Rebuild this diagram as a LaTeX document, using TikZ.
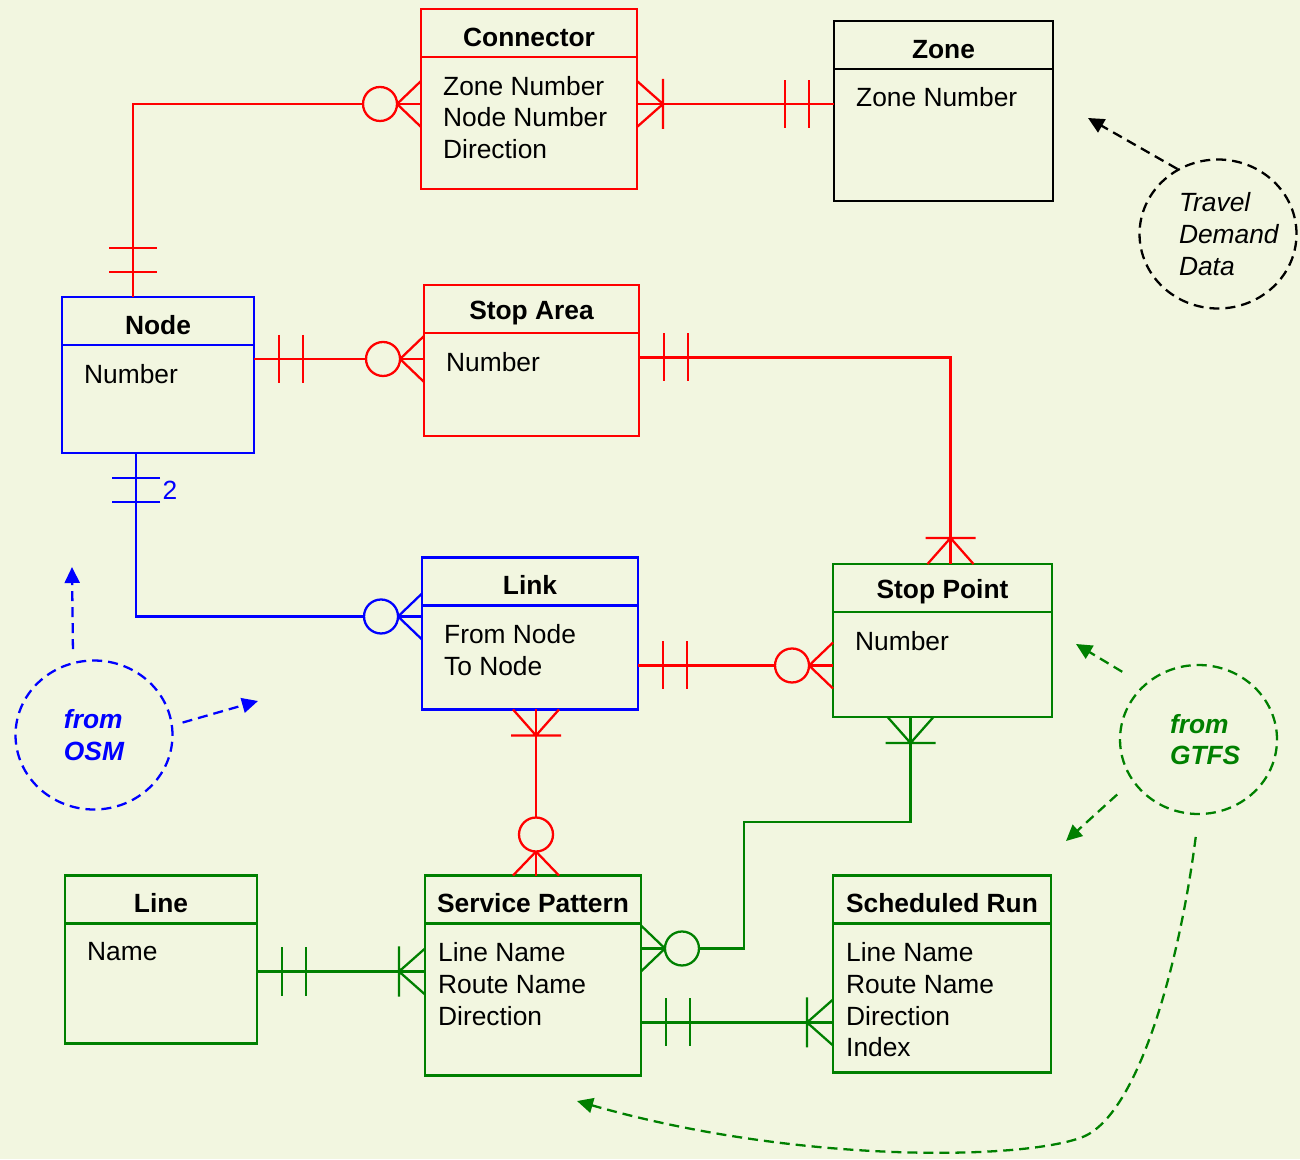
\documentclass[tikz,border=0pt]{standalone}
\usepackage{fontspec}
\setmainfont{Liberation Sans}
\usepackage{tikz}
\usetikzlibrary{shapes.geometric, arrows.meta, positioning}

\definecolor{bgc}{RGB}{242,246,224}
\definecolor{ergreen}{RGB}{0,128,0}
\newcommand{\erfont}{\fontsize{15}{18}\selectfont}

% crow's foot ends, +x points away from the entity
\tikzset{
  onlyone/.pic={\draw (25,-24) -- (25,24) (49,-24) -- (49,24);},
  onemany/.pic={\draw (0,-23) -- (26,0) -- (0,23) (26,-25) -- (26,25);},
  zeromany/.pic={\draw (0,-23) -- (24,0) -- (0,23);
                 \draw[fill=bgc] (41,0) circle[radius=0.34cm];}
}

\begin{document}
\begin{tikzpicture}[
  x=0.02cm, y=-0.02cm, line width=1.3pt,
  head/.style={rectangle, draw, outer sep=0pt, minimum height=0.96cm,
               text height=15pt, font=\erfont\bfseries},
  body/.style={rectangle, draw, outer sep=0pt},
  attr/.style={anchor=north west, inner sep=0pt, align=left, font=\erfont},
  srcnote/.style={ellipse, draw, dash pattern=on 0.2cm off 0.12cm,
                  minimum width=3.14cm, minimum height=2.98cm, inner sep=0pt,
                  align=left, font=\erfont\itshape},
  note/.style={dash pattern=on 0.2cm off 0.12cm,
               -{Triangle[length=0.32cm, width=0.3cm]}}
]
  \path[use as bounding box, fill=bgc] (0,0) rectangle (1300,1159);

  % entities
  \node[head, draw=red, minimum width=4.32cm] (connH) at (529,33) {Connector};
  \node[body, draw=red, minimum width=4.32cm, minimum height=2.64cm, below=0pt of connH] (conn) {};
  \node[attr] (connA) at ([shift={(21,18)}]conn.north west) {Zone Number\\Node Number\\Direction};

  \node[head, draw=black, minimum width=4.38cm] (zoneH) at (943.5,45) {Zone};
  \node[body, minimum width=4.38cm, minimum height=2.64cm, below=0pt of zoneH] (zone) {};
  \node[attr] (zoneA) at ([shift={(21,17)}]zone.north west) {Zone Number};

  \node[head, draw=blue, minimum width=3.84cm] (nodH) at (158,321) {Node};
  \node[body, draw=blue, minimum width=3.84cm, minimum height=2.16cm, below=0pt of nodH] (nod) {};
  \node[attr] (nodA) at ([shift={(21,18)}]nod.north west) {Number};

  \node[head, draw=red, minimum width=4.30cm] (staH) at (531.5,309) {Stop Area};
  \node[body, draw=red, minimum width=4.30cm, minimum height=2.06cm, below=0pt of staH] (sta) {};
  \node[attr] (staA) at ([shift={(21,18)}]sta.north west) {Number};

  \node[head, draw=blue, minimum width=4.32cm] (linkH) at (530,581.5) {Link};
  \node[body, draw=blue, minimum width=4.32cm, minimum height=2.08cm, below=0pt of linkH] (link) {};
  \node[attr] (linkA) at ([shift={(21,18)}]link.north west) {From Node\\To Node};

  \node[head, draw=ergreen, minimum width=4.38cm] (spH) at (942.5,588) {Stop Point};
  \node[body, draw=ergreen, minimum width=4.38cm, minimum height=2.10cm, below=0pt of spH] (sp) {};
  \node[attr] (spA) at ([shift={(21,18)}]sp.north west) {Number};

  \node[head, draw=ergreen, minimum width=3.84cm] (linH) at (161,899.5) {Line};
  \node[body, draw=ergreen, minimum width=3.84cm, minimum height=2.40cm, below=0pt of linH] (lin) {};
  \node[attr] (linA) at ([shift={(21,18)}]lin.north west) {Name};

  \node[head, draw=ergreen, minimum width=4.32cm] (spatH) at (533,899.5) {Service Pattern};
  \node[body, draw=ergreen, minimum width=4.32cm, minimum height=3.04cm, below=0pt of spatH] (spat) {};
  \node[attr] (spatA) at ([shift={(12,18)}]spat.north west) {Line Name\\Route Name\\Direction};

  \node[head, draw=ergreen, minimum width=4.36cm] (srunH) at (942,899.5) {Scheduled Run};
  \node[body, draw=ergreen, minimum width=4.36cm, minimum height=2.98cm, below=0pt of srunH] (srun) {};
  \node[attr] (srunA) at ([shift={(12,18)}]srun.north west) {Line Name\\Route Name\\Direction\\Index};

  % relationships
  \begin{scope}[red]
    \draw ([shift={(-25,0)}]nodH.north) coordinate (r1) |- ([shift={(0,-19)}]conn.west) coordinate (r2);
    \draw ([shift={(0,-19)}]conn.east) coordinate (r3) -- (zone.west |- r3) coordinate (r4);
    \draw ([shift={(0,-40)}]nod.east) coordinate (r5) -- (sta.west |- r5) coordinate (r6);
    \draw ([shift={(0,-27)}]sta.east) coordinate (r7) -| ([shift={(8,0)}]spH.north) coordinate (r8);
    \draw ([shift={(0,8)}]link.east) coordinate (r9) -- (sp.west |- r9) coordinate (r10);
    \draw ([shift={(6,0)}]link.south) coordinate (r11) -- (spatH.north -| r11) coordinate (r12);
    \pic[rotate=90]  at (r1)  {onlyone};
    \pic[rotate=180] at (r2)  {zeromany};
    \pic             at (r3)  {onemany};
    \pic[rotate=180] at (r4)  {onlyone};
    \pic             at (r5)  {onlyone};
    \pic[rotate=180] at (r6)  {zeromany};
    \pic             at (r7)  {onlyone};
    \pic[rotate=90]  at (r8)  {onemany};
    \pic             at (r9)  {onlyone};
    \pic[rotate=180] at (r10) {zeromany};
    \pic[rotate=270] at (r11) {onemany};
    \pic[rotate=90]  at (r12) {zeromany};
  \end{scope}

  \begin{scope}[blue]
    \draw ([shift={(-22,0)}]nod.south) coordinate (b1) |- ([shift={(0,-41)}]link.west) coordinate (b2);
    \pic[rotate=270] at (b1) {onlyone};
    \pic[rotate=180] at (b2) {zeromany};
    \node[font=\erfont] (two) at ([shift={(12,37)}]nod.south) {2};
  \end{scope}

  \begin{scope}[ergreen]
    \draw ([shift={(-32,0)}]sp.south) coordinate (g1) -- ++(0,105)
      -| ([shift={(103,-51)}]spat.east) -- ([shift={(0,-51)}]spat.east) coordinate (g2);
    \draw ([shift={(0,-12)}]lin.east) coordinate (g3) -- (spat.west |- g3) coordinate (g4);
    \draw ([shift={(0,23)}]spat.east) coordinate (g5) -- (srun.west |- g5) coordinate (g6);
    \pic[rotate=270] at (g1) {onemany};
    \pic             at (g2) {zeromany};
    \pic             at (g3) {onlyone};
    \pic[rotate=180] at (g4) {onemany};
    \pic             at (g5) {onlyone};
    \pic[rotate=180] at (g6) {onemany};
  \end{scope}

  % data sources
  \node[srcnote, draw=black, text width=1.56cm] (tdd) at (1218,234) {Travel\\Demand\\Data};
  \node[srcnote, draw=blue, text=blue, font=\erfont\bfseries\itshape] (osm) at (94,735) {from\\OSM};
  \node[srcnote, draw=ergreen, text=ergreen, text width=1.14cm, font=\erfont\bfseries\itshape] (gtfs) at (1198.5,739.5) {from\\GTFS};

  \coordinate (tddtip) at (1088,118);
  \coordinate (osmtip1) at (72,567);
  \coordinate (osmtip2) at (258,701);
  \coordinate (gtfstip1) at (1076,644);
  \coordinate (gtfstip2) at (1066,841);
  \coordinate (gtfstip3) at (577,1101);

  \draw[note] (tdd.122) -- (tddtip);
  \draw[note, blue, shorten <=0.26cm] (osm.106) -- (osmtip1);
  \draw[note, blue, shorten <=0.2cm] (osm.7) -- (osmtip2);
  \draw[note, ergreen, shorten <=0.5cm] (gtfs.135) -- (gtfstip1);
  \draw[note, ergreen, shorten <=0.4cm] (gtfs.212) -- (gtfstip2);
  \draw[note, ergreen, shorten <=0.44cm] (gtfs.south) .. controls (1180,960) and (1140,1110) .. (1085,1136)
    .. controls (1030,1160) and (800,1165) .. (gtfstip3);
\end{tikzpicture}
\end{document}
